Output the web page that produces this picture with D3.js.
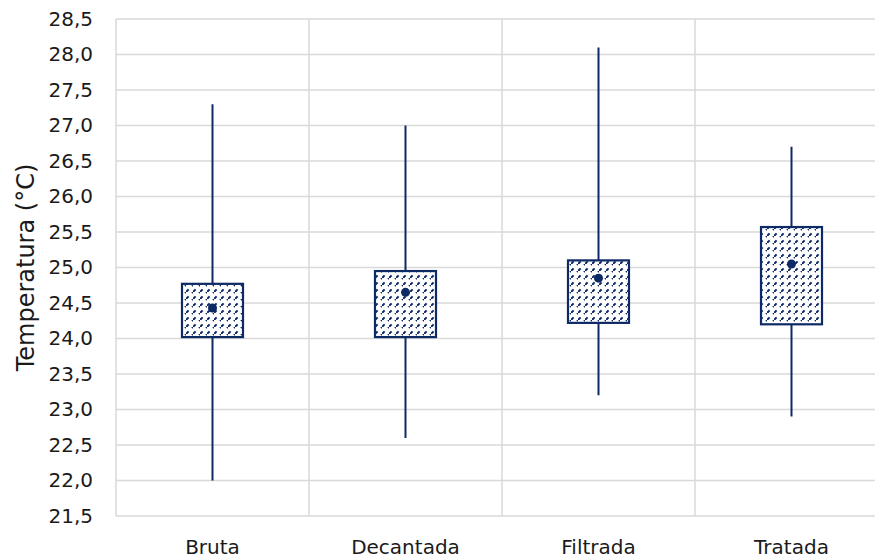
<!DOCTYPE html>
<html>
<head>
<meta charset="utf-8">
<script src="https://cdn.jsdelivr.net/npm/d3@7"></script>
<style>
  body { margin: 0; background: #fff; }
</style>
</head>
<body>
<svg width="875" height="558"></svg>
<script>
// data
const categories = ["Bruta", "Decantada", "Filtrada", "Tratada"];
const whiskerMin = [22.0, 22.6, 23.2, 22.9];
const whiskerMax = [27.3, 27.0, 28.1, 26.7];
const boxLow = [24.02, 24.02, 24.22, 24.2];
const boxHigh = [24.77, 24.95, 25.1, 25.57];
const means = [24.43, 24.65, 24.85, 25.05];
const yTicks = d3.range(21.5, 28.51, 0.5);

const margin = {top: 19, right: -13, bottom: 42, left: 116};
const width = 875 - margin.left - margin.right;
const height = 558 - margin.top - margin.bottom;
const navy = "#0e2a66";
const font = "DejaVu Sans";

const svg = d3.select("svg");

// hatch pattern for the boxes (dashed diagonals)
const pat = svg.append("defs").append("pattern")
  .attr("id", "hatch")
  .attr("patternUnits", "userSpaceOnUse")
  .attr("width", 7).attr("height", 7);
pat.append("rect").attr("width", 7).attr("height", 7).attr("fill", "#fff");
pat.append("line").attr("x1", -1).attr("y1", 8).attr("x2", 2.6).attr("y2", 4.4)
  .attr("stroke", navy).attr("stroke-width", 2);
pat.append("line").attr("x1", 6).attr("y1", 1).attr("x2", 9.6).attr("y2", -2.6)
  .attr("stroke", navy).attr("stroke-width", 2);

const g = svg.append("g").attr("transform", "translate(" + margin.left + "," + margin.top + ")");

let x = d3.scaleBand().domain(categories).range([0, width]);
let y = d3.scaleLinear().domain([21.5, 28.5]).range([height, 0]);

// horizontal grid
g.selectAll(".hgrid").data(yTicks).enter().append("line")
  .attr("x1", 0).attr("x2", width)
  .attr("y1", d => y(d)).attr("y2", d => y(d))
  .attr("stroke", "#d9d9d9").attr("stroke-width", 1.5);

// vertical separators
g.selectAll(".vgrid").data(d3.range(categories.length + 1)).enter().append("line")
  .attr("x1", i => i * x.bandwidth()).attr("x2", i => i * x.bandwidth())
  .attr("y1", 0).attr("y2", height)
  .attr("stroke", "#d9d9d9").attr("stroke-width", 1.5);

// y axis labels
g.append("g")
  .call(d3.axisLeft(y).tickValues(yTicks).tickSize(0).tickPadding(23)
    .tickFormat(d => d3.format(".1f")(d).replace(".", ",")))
  .call(a => a.select(".domain").remove())
  .selectAll("text")
  .attr("font-size", 20).attr("fill", "#1a1a1a").attr("font-family", font);

// x axis labels
g.append("g")
  .attr("transform", "translate(0," + height + ")")
  .call(d3.axisBottom(x).tickSize(0).tickPadding(24))
  .call(a => a.select(".domain").remove())
  .selectAll("text")
  .attr("font-size", 20).attr("fill", "#1a1a1a").attr("font-family", font);

// y title
svg.append("text")
  .attr("transform", "translate(34," + (margin.top + height / 2) + ") rotate(-90)")
  .attr("text-anchor", "middle")
  .attr("font-size", 24)
  .attr("font-family", font)
  .attr("fill", "#1a1a1a")
  .text("Temperatura (°C)");

const boxW = 61;
const items = categories.map((c, i) => ({c: c, lo: whiskerMin[i], hi: whiskerMax[i], q1: boxLow[i], q3: boxHigh[i], m: means[i]}));

const boxes = g.selectAll(".box").data(items).enter().append("g");

boxes.append("line")
  .attr("x1", d => x(d.c) + x.bandwidth() / 2).attr("x2", d => x(d.c) + x.bandwidth() / 2)
  .attr("y1", d => y(d.hi)).attr("y2", d => y(d.lo))
  .attr("stroke", navy).attr("stroke-width", 2);

boxes.append("rect")
  .attr("x", d => x(d.c) + x.bandwidth() / 2 - boxW / 2)
  .attr("width", boxW)
  .attr("y", d => y(d.q3))
  .attr("height", d => y(d.q1) - y(d.q3))
  .attr("fill", "url(#hatch)")
  .attr("stroke", navy).attr("stroke-width", 2.2);

boxes.append("circle")
  .attr("cx", d => x(d.c) + x.bandwidth() / 2)
  .attr("cy", d => y(d.m))
  .attr("r", 4.5)
  .attr("fill", navy);
</script>
</body>
</html>
